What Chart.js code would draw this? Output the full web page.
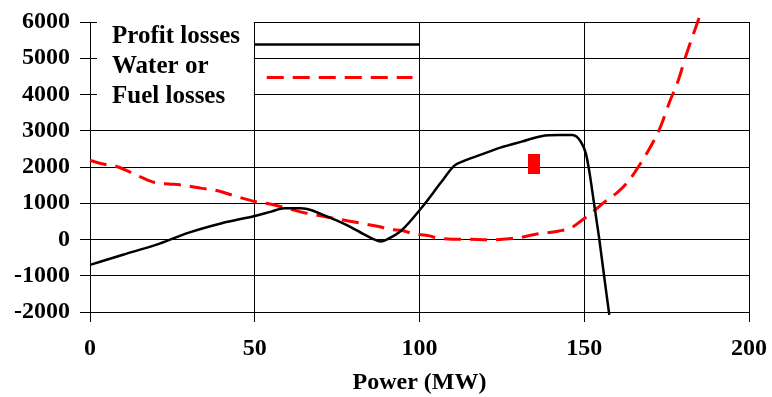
<!DOCTYPE html>
<html><head><meta charset="utf-8">
<script src="https://cdn.jsdelivr.net/npm/chart.js@4/dist/chart.umd.min.js"></script>
<style>html,body{margin:0;padding:0;background:#fff}#c{display:block}</style>
</head><body>
<canvas id="c" width="772" height="397"></canvas>
<script>
// ---- data ----
const profitX = [0, 10, 20, 30, 40, 50, 55, 59, 64, 67.5, 71, 75, 79, 83, 86, 88.3, 90.3, 94.4, 100.5, 106.5, 110.5, 113, 118, 124.8, 131, 137, 142.4, 146.4, 149, 150.5, 151.5, 153, 154.5, 156.1, 157.6];
const profitY = [-700, -420, -150, 190, 450, 650, 770, 860, 860, 800, 670, 520, 350, 150, 10, -55, 10, 240, 860, 1570, 2030, 2150, 2320, 2540, 2700, 2850, 2880, 2880, 2690, 2370, 1900, 980, 50, -1060, -2080];
const fuelX = [0, 5, 8.5, 14, 17.5, 20, 24, 28, 34, 38, 44, 50, 55, 65, 75, 84, 88, 91, 95, 98, 103, 105, 110, 115, 121, 128, 130, 135, 142, 146, 149, 153.5, 157, 160, 163.5, 167.5, 170.5, 173, 176, 178.5, 181, 185];
const fuelY = [2180, 2060, 2000, 1780, 1640, 1560, 1530, 1500, 1410, 1360, 1200, 1050, 970, 740, 570, 420, 350, 280, 240, 160, 100, 50, 10, 5, -10, 30, 45, 140, 230, 320, 510, 830, 1100, 1290, 1620, 2160, 2620, 3080, 3820, 4380, 5110, 6150];
const markerX = [134.8];
const markerY = [2070];
const legendLabels = ['Profit losses', 'Water or', 'Fuel losses'];
const xTitle = 'Power (MW)';
const xMin = 0, xMax = 200, xStep = 50;
const yMin = -2000, yMax = 6000, yStep = 1000;

const pairs = (xs, ys) => xs.map((v, i) => ({x: v, y: ys[i]}));

// rectangular marker image
const mk = document.createElement('canvas');
mk.width = 12; mk.height = 20;
const mctx = mk.getContext('2d');
mctx.fillStyle = '#ff0000';
mctx.fillRect(0, 0, 12, 20);

const FONT = '"Liberation Serif", "Times New Roman", serif';

const legendPlugin = {
  id: 'boxLegend',
  afterDraw(chart) {
    const {ctx, chartArea} = chart;
    const xs = chart.scales.x;
    const top = chartArea.top;
    const left = chartArea.left;
    const x50 = xs.getPixelForValue(50), x100 = xs.getPixelForValue(100);
    ctx.save();
    ctx.fillStyle = '#fff';
    ctx.fillRect(left + 7, top - 3, x50 - 1 - (left + 7), 92);
    ctx.fillStyle = '#000';
    ctx.font = 'bold 25px ' + FONT;
    ctx.textBaseline = 'alphabetic';
    ctx.textAlign = 'left';
    ctx.fillText(legendLabels[0], left + 22, top + 21);
    ctx.fillText(legendLabels[1], left + 22, top + 51);
    ctx.fillText(legendLabels[2], left + 22, top + 81);
    ctx.strokeStyle = '#000';
    ctx.lineWidth = 2.5;
    ctx.beginPath();
    ctx.moveTo(x50, top + 22.5);
    ctx.lineTo(x100, top + 22.5);
    ctx.stroke();
    ctx.strokeStyle = '#ff0000';
    ctx.lineWidth = 3;
    ctx.setLineDash([17, 9]);
    ctx.beginPath();
    ctx.moveTo(x50 + 12, top + 55.5);
    ctx.lineTo(x100 - 7, top + 55.5);
    ctx.stroke();
    ctx.restore();
  }
};

new Chart(document.getElementById('c'), {
  type: 'scatter',
  data: {
    datasets: [
      {
        label: legendLabels[0],
        data: pairs(profitX, profitY),
        showLine: true,
        borderColor: '#000',
        borderWidth: 2.5,
        pointRadius: 0,
        cubicInterpolationMode: 'monotone',
        clip: false
      },
      {
        label: legendLabels[1] + ' ' + legendLabels[2],
        data: pairs(fuelX, fuelY),
        showLine: true,
        borderColor: '#ff0000',
        borderWidth: 3,
        borderDash: [17, 9],
        pointRadius: 0,
        cubicInterpolationMode: 'monotone',
        clip: false
      },
      {
        label: 'marker',
        data: pairs(markerX, markerY),
        pointStyle: mk,
        pointRadius: 10,
        showLine: false
      }
    ]
  },
  options: {
    responsive: false,
    animation: false,
    events: [],
    layout: {padding: {top: 22, right: 23, left: 0, bottom: 0}},
    plugins: {legend: {display: false}, tooltip: {enabled: false}},
    scales: {
      x: {
        type: 'linear',
        min: xMin, max: xMax,
        ticks: {stepSize: xStep, color: '#000', padding: 12, maxRotation: 0,
                callback: v => String(v),
                font: {family: FONT, size: 24, weight: 'bold'}},
        grid: {color: '#000', lineWidth: 1, tickLength: 10, drawTicks: true},
        border: {color: '#000', width: 1},
        title: {display: true, text: xTitle, color: '#000', padding: {top: 0, bottom: 0},
                font: {family: FONT, size: 24, weight: 'bold'}},
        afterFit(s) { s.height = 85; s.paddingLeft = 0; s.paddingRight = 0; }
      },
      y: {
        type: 'linear',
        min: yMin, max: yMax,
        ticks: {stepSize: yStep, color: '#000', padding: 10,
                callback: v => String(v),
                font: {family: FONT, size: 24, weight: 'bold'}},
        grid: {color: '#000', lineWidth: 1, tickLength: 10, drawTicks: true},
        border: {color: '#000', width: 1},
        afterFit(s) { s.width = 90; s.paddingTop = 0; s.paddingBottom = 0; }
      }
    }
  },
  plugins: [legendPlugin]
});
</script>
</body></html>
